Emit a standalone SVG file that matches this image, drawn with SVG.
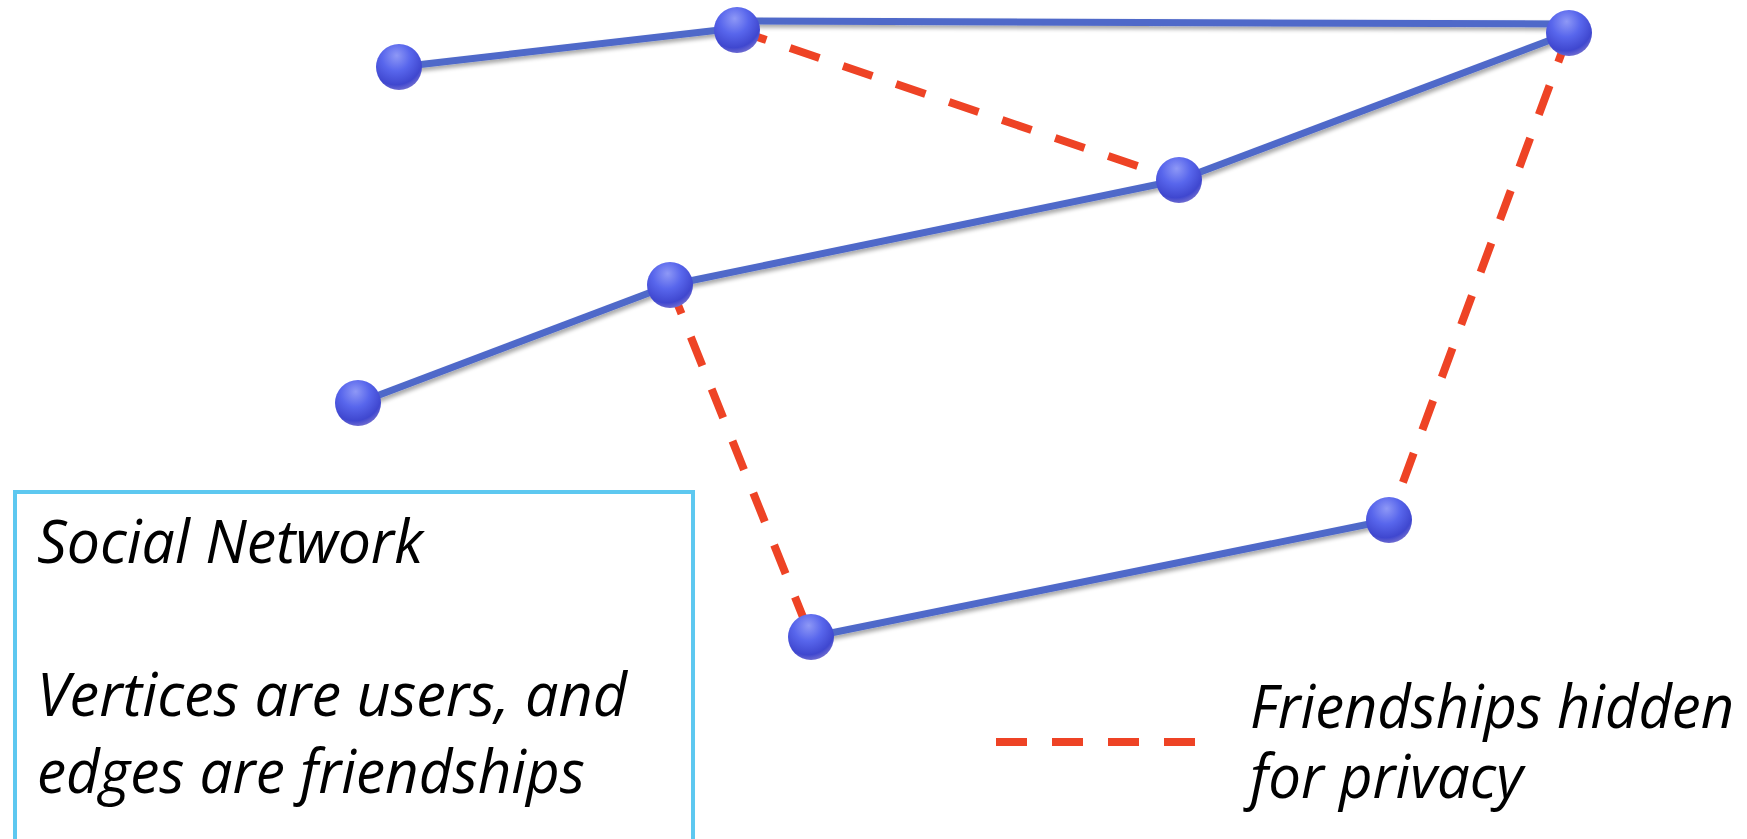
<svg xmlns="http://www.w3.org/2000/svg" width="1747" height="839" viewBox="0 0 1747 839">
<defs>
<radialGradient id="ball" cx="0.42" cy="0.3" r="0.7" fx="0.45" fy="0.25">
<stop offset="0" stop-color="#8e98f6"/>
<stop offset="0.45" stop-color="#5866ec"/>
<stop offset="0.85" stop-color="#3f47cf"/>
<stop offset="1" stop-color="#6a68d0"/>
</radialGradient>
<filter id="sh" x="-10%" y="-50%" width="120%" height="200%">
<feGaussianBlur in="SourceAlpha" stdDeviation="2"/>
<feOffset dx="2" dy="3" result="b"/>
<feComponentTransfer><feFuncA type="linear" slope="0.35"/></feComponentTransfer>
<feMerge><feMergeNode/><feMergeNode in="SourceGraphic"/></feMerge>
</filter>
<style>
.e{stroke:#4f69c9;stroke-width:7;fill:none}
.h{stroke:#ee4325;stroke-width:8;stroke-dasharray:31 25;fill:none}
.n{fill:url(#ball)}
.t{font-family:"Open Sans","DejaVu Sans",sans-serif;font-style:italic;font-size:60px;fill:#000}
</style>
</defs>
<rect width="1747" height="839" fill="#fff"/>
<g id="connectors">
<line class="h" x1="737" y1="30" x2="1179" y2="180"/>
<line class="h" x1="670" y1="285" x2="811" y2="637"/>
<line class="h" x1="1569" y1="33" x2="1389" y2="520"/>
<g filter="url(#sh)">
<line class="e" x1="399" y1="67" x2="737" y2="28"/>
<line class="e" x1="737" y1="21" x2="1569" y2="24"/>
<line class="e" x1="1179" y1="180" x2="1569" y2="33"/>
<line class="e" x1="670" y1="285" x2="1179" y2="180"/>
<line class="e" x1="358" y1="403" x2="670" y2="285"/>
<line class="e" x1="811" y1="637" x2="1389" y2="520"/>
</g>
</g>
<g id="n1"><circle class="n" cx="399" cy="67" r="23"/></g>
<g id="n2"><circle class="n" cx="737" cy="30" r="23"/></g>
<g id="n3"><circle class="n" cx="1569" cy="33" r="23"/></g>
<g id="n4"><circle class="n" cx="1179" cy="180" r="23"/></g>
<g id="n5"><circle class="n" cx="670" cy="285" r="23"/></g>
<g id="n6"><circle class="n" cx="358" cy="403" r="23"/></g>
<g id="n7"><circle class="n" cx="1389" cy="520" r="23"/></g>
<g id="n8"><circle class="n" cx="811" cy="637" r="23"/></g>
<g id="infobox">
<rect x="15" y="492" width="678" height="360" fill="none" stroke="#5dc8f0" stroke-width="4"/>
<text class="t" x="37" y="563" textLength="386" lengthAdjust="spacingAndGlyphs">Social Network</text>
<text class="t" x="37" y="716" textLength="590" lengthAdjust="spacingAndGlyphs">Vertices are users, and</text>
<text class="t" x="37" y="793" textLength="548" lengthAdjust="spacingAndGlyphs">edges are friendships</text>
</g>
<g id="legend">
<line class="h" x1="996" y1="742" x2="1196" y2="742"/>
<text class="t" x="1250" y="728" textLength="484" lengthAdjust="spacingAndGlyphs">Friendships hidden</text>
<text class="t" x="1250" y="798" textLength="273" lengthAdjust="spacingAndGlyphs">for privacy</text>
</g>
</svg>
